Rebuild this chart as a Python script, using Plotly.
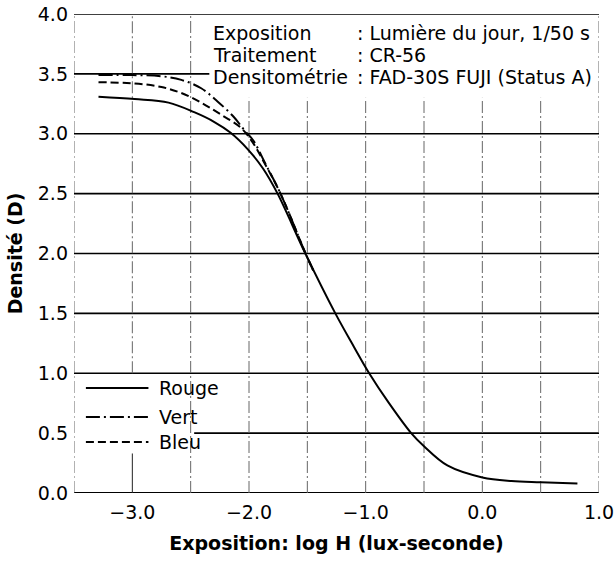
import plotly.graph_objects as go

# ---- data ----
rouge_x = [-3.29, -2.98, -2.69, -2.47, -2.30, -2.16, -2.01, -1.88, -1.755, -1.517, -1.26, -1.10, -0.97, -0.80, -0.61, -0.50, -0.30, 0.0, 0.25, 0.50, 0.815]
rouge_y = [3.31, 3.29, 3.26, 3.18, 3.10, 3.01, 2.87, 2.71, 2.50, 2.00, 1.50, 1.22, 1.00, 0.75, 0.50, 0.39, 0.23, 0.13, 0.10, 0.09, 0.08]

vert_x = [-3.29, -3.00, -2.75, -2.58, -2.41, -2.27, -2.13, -2.04, -1.96, -1.87, -1.73, -1.515, -1.45]
vert_y = [3.49, 3.49, 3.48, 3.45, 3.38, 3.27, 3.14, 3.03, 2.94, 2.77, 2.50, 2.00, 1.86]

bleu_x = [-3.29, -2.98, -2.75, -2.58, -2.41, -2.24, -2.07, -1.97, -1.87, -1.73, -1.515, -1.45]
bleu_y = [3.43, 3.42, 3.39, 3.34, 3.26, 3.16, 3.05, 2.93, 2.76, 2.50, 2.00, 1.86]

series_names = ["Rouge", "Vert", "Bleu"]
series_dash = ["solid", "14px,4px,2px,4px", "8px,4px"]

x_ticks = [-3.0, -2.0, -1.0, 0.0, 1.0]
y_ticks = [0.0, 0.5, 1.0, 1.5, 2.0, 2.5, 3.0, 3.5, 4.0]
x_grid = [-3.5, -3.0, -2.5, -2.0, -1.5, -1.0, -0.5, 0.0, 0.5, 1.0]
y_grid = [0.5, 1.0, 1.5, 2.0, 2.5, 3.0, 3.5, 4.0]

info_labels = ["Exposition", "Traitement", "Densitométrie"]
info_values = [": Lumière du jour, 1/50 s", ": CR-56", ": FAD-30S FUJI (Status A)"]

FONT = "DejaVu Sans"
X0, X1, Y0, Y1 = -3.5, 1.0, 0.0, 4.0

fig = go.Figure()
for name, xs, ys, dash in zip(series_names, [rouge_x, vert_x, bleu_x], [rouge_y, vert_y, bleu_y], series_dash):
    fig.add_trace(go.Scatter(x=xs, y=ys, mode="lines", name=name, showlegend=False, cliponaxis=False,
                             line=dict(color="black", width=2, dash=dash, shape="spline", smoothing=1.0)))

shapes = []
for yv in y_grid:
    xa, xb = X0, X1
    if yv == 0.5:
        xa = -2.47
    if yv == 3.5:
        xb = -2.34
    shapes.append(dict(type="line", xref="x", yref="y", x0=xa, x1=xb, y0=yv, y1=yv,
                       line=dict(color="black", width=1.6), layer="below"))
shapes.append(dict(type="line", xref="x", yref="y", x0=X0, x1=X1, y0=Y0, y1=Y0,
                   line=dict(color="black", width=1.8), layer="below"))
for xv in x_grid:
    segs = [(Y0, Y1)]
    if -2.01 < xv < 0.99:
        segs = [(Y0, 3.3)]
    if xv == -3.0:
        segs = [(1.0, Y1)]
        shapes.append(dict(type="line", xref="x", yref="y", x0=xv, x1=xv, y0=Y0, y1=0.33,
                           line=dict(color="#222", width=1), layer="below"))
    for ya, yb in segs:
        shapes.append(dict(type="line", xref="x", yref="y", x0=xv, x1=xv, y0=ya, y1=yb,
                           line=dict(color="#666", width=1, dash="12px,3px,2px,3px"), layer="below"))

leg_y = [0.877, 0.635, 0.426]
annotations = []
for name, dash, ly in zip(series_names, series_dash, leg_y):
    shapes.append(dict(type="line", xref="x", yref="y", x0=-3.398, x1=-2.862, y0=ly, y1=ly,
                       line=dict(color="black", width=2, dash=dash)))
    annotations.append(dict(x=-2.785, y=ly, xref="x", yref="y", text=name, showarrow=False,
                            xanchor="left", yanchor="middle",
                            font=dict(family=FONT, size=19, color="black")))

info_y = [3.84, 3.655, 3.47]
for lab, val, iy in zip(info_labels, info_values, info_y):
    annotations.append(dict(x=-2.326, y=iy, xref="x", yref="y", text=lab, showarrow=False,
                            xanchor="left", yanchor="middle",
                            font=dict(family=FONT, size=19, color="black")))
    annotations.append(dict(x=-1.09, y=iy, xref="x", yref="y", text=val, showarrow=False,
                            xanchor="left", yanchor="middle",
                            font=dict(family=FONT, size=19, color="black")))

fig.update_layout(
    width=616, height=562,
    margin=dict(l=74, r=17, t=14, b=69),
    paper_bgcolor="white", plot_bgcolor="white",
    shapes=shapes, annotations=annotations,
    font=dict(family=FONT, size=19, color="black"),
    xaxis=dict(range=[X0, X1], tickvals=x_ticks, tickformat=".1f", showgrid=False,
               zeroline=False, showline=False, ticks="", ticklabelstandoff=6, automargin=False,
               ticklabeloverflow="allow",
               title=dict(text="Exposition: log H (lux-seconde)", standoff=14,
                          font=dict(family=FONT, size=19, weight="bold", color="black"))),
    yaxis=dict(range=[Y0, Y1], tickvals=y_ticks, tickformat=".1f", showgrid=False,
               zeroline=False, showline=False, ticks="", ticklabelstandoff=5, automargin=False,
               ticklabeloverflow="allow",
               title=dict(text="Densité (D)", standoff=10,
                          font=dict(family=FONT, size=19, weight="bold", color="black"))),
)

# remove the browser's default 8px body margin so the figure fills the window exactly
fig.write_html("out.html", config={"displayModeBar": False},
               post_script="document.body.style.margin='0px';")
